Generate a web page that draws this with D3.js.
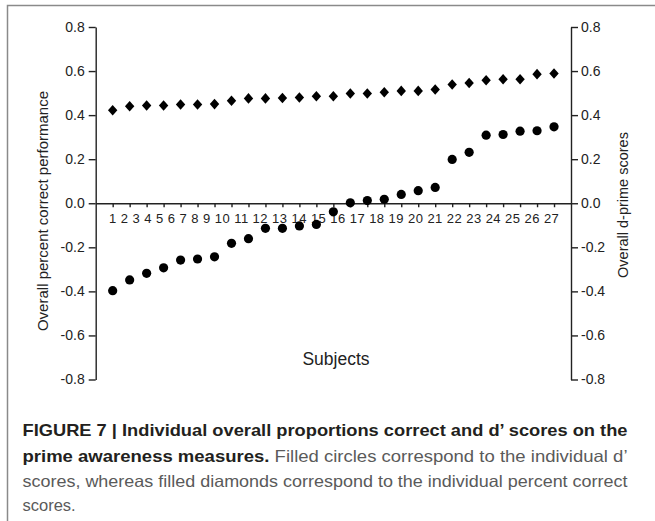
<!DOCTYPE html>
<html>
<head>
<meta charset="utf-8">
<script src="https://cdn.jsdelivr.net/npm/d3@7/dist/d3.min.js"></script>
<style>
body { margin: 0; background: #fff; }
text { font-family: "Liberation Sans", Arial, Helvetica, sans-serif; }
</style>
</head>
<body>
<div class="container"></div>
<script>
var subjects = [1,2,3,4,5,6,7,8,9,10,11,12,13,14,15,16,17,18,19,20,21,22,23,24,25,26,27];
var percentCorrect = [0.422,0.440,0.444,0.444,0.448,0.448,0.450,0.465,0.476,0.476,0.478,0.480,0.486,
	0.486,0.498,0.498,0.504,0.510,0.510,0.516,0.539,0.546,0.558,0.563,0.563,0.586,0.589];
var dPrime = [-0.397,-0.348,-0.318,-0.293,-0.258,-0.253,-0.243,-0.182,-0.161,-0.114,-0.114,-0.103,-0.096,
	-0.039,0.002,0.012,0.018,0.040,0.057,0.072,0.199,0.231,0.309,0.312,0.327,0.329,0.347];
var yTicks = [-0.8,-0.6,-0.4,-0.2,0.0,0.2,0.4,0.6,0.8];
var leftTitle = "Overall percent correct performance";
var rightTitle = "Overall d-prime scores";
var xTitle = "Subjects";

var WIDTH = 655, HEIGHT = 521;
var LEFT = 95.7, RIGHT = 571;

var svg = d3.select('.container').append('svg')
	.attr('width', WIDTH)
	.attr('height', HEIGHT);

// frame of the figure box
svg.append('path')
	.attr('d', 'M7.5,521V5.5H655')
	.attr('fill', 'none')
	.attr('stroke', '#8a8a8a')
	.attr('stroke-width', 1.5);

var xScale = d3.scaleLinear()
	.domain([0, 28])
	.range([LEFT, RIGHT]);

var yScale = d3.scaleLinear()
	.domain([-0.8, 0.8])
	.range([379.5, 27]);

var fmt = function(d) { return d.toFixed(1); };

var styleAxis = function(g) {
	g.selectAll('path, line').attr('stroke', '#222').attr('stroke-width', 1.4);
	g.selectAll('text').attr('fill', '#222').style('font-size', '14px');
};

svg.append('g').attr('transform', 'translate(' + LEFT + ',0)')
	.call(d3.axisLeft(yScale).tickValues(yTicks).tickFormat(fmt).tickSize(7).tickPadding(4).tickSizeOuter(0))
	.call(styleAxis);

svg.append('g').attr('transform', 'translate(' + RIGHT + ',0)')
	.call(d3.axisRight(yScale).tickValues(yTicks).tickFormat(fmt).tickSize(7).tickPadding(3).tickSizeOuter(0))
	.call(styleAxis);

svg.append('g').attr('transform', 'translate(0,' + yScale(0) + ')')
	.call(d3.axisBottom(xScale).tickValues(subjects).tickFormat('').tickSize(4).tickSizeOuter(0))
	.call(styleAxis);

// subject numbers set as one line of text, as in the original figure
svg.append('text')
	.attr('x', xScale(1) - 3.6)
	.attr('y', yScale(0) + 20)
	.attr('fill', '#222')
	.style('font-size', '13px')
	.style('letter-spacing', '0.45px')
	.text(subjects.join(' '));

var diamond = {
	draw: function(context, size) {
		var w = 4.7, h = 5.3;
		context.moveTo(0, -h);
		context.lineTo(w, 0);
		context.lineTo(0, h);
		context.lineTo(-w, 0);
		context.closePath();
	}
};

svg.append('g').selectAll('path').data(subjects)
	.enter()
	.append('path')
	.attr('d', d3.symbol().type(diamond))
	.attr('transform', function(d, i) { return 'translate(' + xScale(d) + ',' + yScale(percentCorrect[i]) + ')'; })
	.attr('fill', '#000');

svg.append('g').selectAll('circle').data(subjects)
	.enter()
	.append('circle')
	.attr('cx', function(d) { return xScale(d); })
	.attr('cy', function(d, i) { return yScale(dPrime[i]); })
	.attr('r', 4.6)
	.attr('fill', '#000');

svg.append('text')
	.attr('transform', 'translate(47.5,211) rotate(-90)')
	.attr('text-anchor', 'middle')
	.attr('fill', '#222')
	.style('font-size', '15px')
	.text(leftTitle);

svg.append('text')
	.attr('transform', 'translate(628,205) rotate(-90)')
	.attr('text-anchor', 'middle')
	.attr('fill', '#222')
	.style('font-size', '14.5px')
	.text(rightTitle);

svg.append('text')
	.attr('x', 336)
	.attr('y', 364.5)
	.attr('text-anchor', 'middle')
	.attr('fill', '#222')
	.style('font-size', '17.5px')
	.text(xTitle);

// caption
var caption = [
	[{t: 'FIGURE 7 | Individual overall proportions correct and d\u2019 scores on the', b: true}],
	[{t: 'prime awareness measures.', b: true}, {t: ' Filled circles correspond to the individual d\u2019', b: false}],
	[{t: 'scores, whereas filled diamonds correspond to the individual percent correct', b: false}],
	[{t: 'scores.', b: false}]
];
var capY = [436, 461.5, 486.5, 510.5];
var capLen = [605, 605, 605, null];

caption.forEach(function(line, i) {
	var t = svg.append('text')
		.attr('x', 22.5)
		.attr('y', capY[i])
		.style('font-size', '16.5px');
	if (capLen[i]) t.attr('textLength', capLen[i]).attr('lengthAdjust', 'spacingAndGlyphs');
	line.forEach(function(s) {
		t.append('tspan')
			.attr('fill', s.b ? '#231f20' : '#5a5a5a')
			.style('font-weight', s.b ? 'bold' : 'normal')
			.text(s.t);
	});
});
</script>
</body>
</html>
